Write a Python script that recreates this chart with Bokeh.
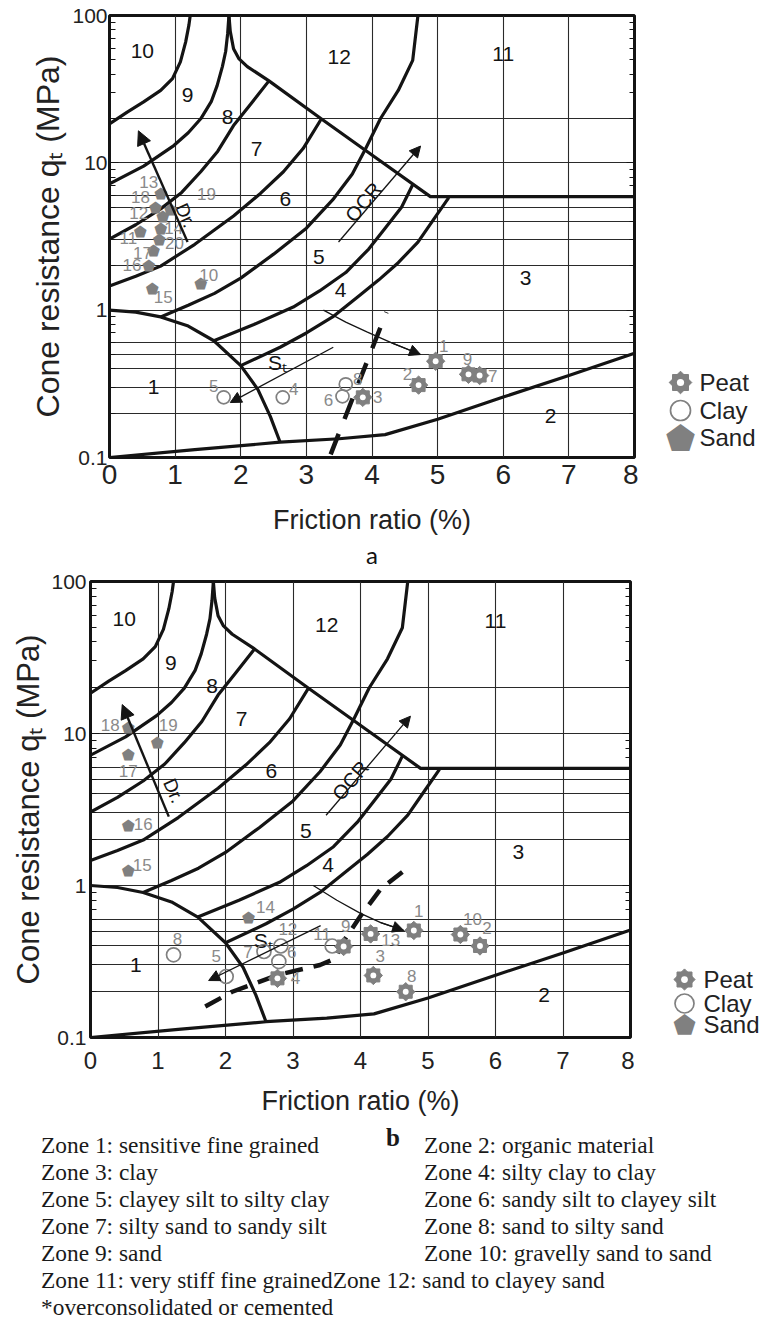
import numpy as np
from bokeh.plotting import figure
from bokeh.models import (Range1d, FixedTicker, LogAxis, Title, Arrow,
                          NormalHead, CustomJSTickFormatter, ColumnDataSource, Div)
from bokeh.layouts import column, row
from bokeh.embed import file_html
from bokeh.resources import INLINE
from bokeh.core.properties import value

# ---------------------------------------------------------------- axes / grid
rf_ticks = [0, 1, 2, 3, 4, 5, 6, 7, 8]
qt_ticks = [0.1, 1, 10, 100]
grid_rf = [1, 2, 3, 4, 5, 6, 7]
grid_qt = [0.2, 0.3, 0.4, 0.5, 0.6, 1, 2, 3, 4, 5, 6, 10, 20]

# ---------------------------------------------------------------- zone labels
zone_names = ["1", "2", "3", "4", "5", "6", "7", "8", "9", "10", "11", "12"]
zone_lbl_rf = [0.67, 6.72, 6.34, 3.52, 3.19, 2.68, 2.24, 1.80, 1.19, 0.50, 6.00, 3.50]
zone_lbl_qt = [0.30, 0.19, 1.66, 1.37, 2.30, 5.70, 12.5, 20.5, 29.0, 57.0, 55.0, 52.0]

# ---------------------------------------------------------------- zone boundaries
b_zone1_rf = [0, 0.4, 0.78, 1.2, 1.59, 2.0, 2.26, 2.45, 2.6]
b_zone1_qt = [1.0, 0.97, 0.9, 0.78, 0.62, 0.42, 0.29, 0.19, 0.127]
b_zone2_rf = [0, 1.3, 2.6, 3.5, 4.2, 5.0, 6.0, 7.0, 8.0]
b_zone2_qt = [0.1, 0.113, 0.127, 0.134, 0.143, 0.182, 0.257, 0.36, 0.51]
b_43_rf = [2.0, 2.6, 3.0, 3.4, 3.8, 4.1, 4.4, 4.7, 4.95, 5.17]
b_43_qt = [0.42, 0.56, 0.7, 0.9, 1.25, 1.6, 2.1, 2.9, 4.2, 5.8]
b_54_rf = [1.59, 2.2, 2.8, 3.2, 3.6, 3.95, 4.2, 4.45, 4.62]
b_54_qt = [0.62, 0.8, 1.05, 1.35, 1.8, 2.6, 3.6, 5.0, 7.1]
b_65_rf = [0.78, 1.2, 1.6, 2.0, 2.5, 3.0, 3.4, 3.7, 3.9, 4.13, 4.4, 4.62, 4.7]
b_65_qt = [0.9, 1.08, 1.3, 1.65, 2.4, 3.6, 5.6, 8.4, 12.4, 20, 31, 49.6, 100]
b_76_rf = [0, 0.4, 0.78, 1.3, 1.89, 2.3, 2.65, 2.95, 3.22]
b_76_qt = [1.46, 1.7, 1.99, 2.8, 4.36, 6.2, 8.7, 12.5, 19.6]
b_87_rf = [0, 0.4, 0.78, 1.1, 1.39, 1.65, 1.89, 2.15, 2.43]
b_87_qt = [3.04, 3.8, 4.87, 6.3, 8.7, 12.0, 17.9, 25.0, 36.0]
b_98_rf = [0, 0.52, 0.98, 1.2, 1.39, 1.55, 1.64, 1.72, 1.77, 1.80, 1.82]
b_98_qt = [7.2, 9.5, 13.1, 16.0, 19.9, 26.0, 33.4, 45.0, 57.0, 75.0, 100]
b_109_rf = [0, 0.27, 0.52, 0.78, 0.96, 1.08, 1.16, 1.21, 1.23]
b_109_qt = [18.4, 22.1, 25.9, 31.0, 37.3, 48.4, 66.0, 86.0, 100]
b_12_rf = [1.82, 1.84, 1.89, 1.97, 2.1, 2.43, 3.22, 3.93, 4.89, 8.0]
b_12_qt = [100, 78, 59.5, 51, 45, 36, 20, 11.9, 5.9, 5.9]
boundaries = [(b_zone1_rf, b_zone1_qt), (b_zone2_rf, b_zone2_qt), (b_43_rf, b_43_qt),
              (b_54_rf, b_54_qt), (b_65_rf, b_65_qt), (b_76_rf, b_76_qt),
              (b_87_rf, b_87_qt), (b_98_rf, b_98_qt), (b_109_rf, b_109_qt),
              (b_12_rf, b_12_qt)]

# ---------------------------------------------------------------- panel a data
peat_a_id = ["1", "2", "3", "7", "9"]
peat_a_rf = [4.97, 4.71, 3.86, 5.64, 5.47]
peat_a_qt = [0.45, 0.31, 0.256, 0.36, 0.367]
clay_a_id = ["4", "5", "6", "8"]
clay_a_rf = [2.64, 1.74, 3.55, 3.60]
clay_a_qt = [0.256, 0.256, 0.26, 0.314]
sand_a_id = ["10", "11", "12", "13", "14", "15", "16", "17", "18", "19", "20"]
sand_a_rf = [1.39, 0.47, 0.81, 0.78, 0.78, 0.65, 0.60, 0.67, 0.70, 0.93, 0.76]
sand_a_qt = [1.50, 3.39, 4.30, 6.16, 3.55, 1.39, 1.99, 2.52, 4.94, 4.79, 2.99]

# label offsets (screen px)
peat_a_dx = [8, -11, 15, 13, -1]
peat_a_dy = [-15, -11, 0, 0, -15]
clay_a_dx = [11, -10, -14, 12]
clay_a_dy = [-8, -11, 4, -5]
sand_a_dx = [8, -12, -24, -12, 13, 11, -17, -11, -15, 36, 15]
sand_a_dy = [-9, 6, -4, -12, -1, 8, -1, 2, -11, -16, 3]

# ---------------------------------------------------------------- panel b data
peat_b_id = ["1", "2", "3", "4", "8", "9", "10", "13"]
peat_b_rf = [4.79, 5.77, 4.19, 2.77, 4.67, 3.75, 5.48, 4.15]
peat_b_qt = [0.506, 0.40, 0.256, 0.245, 0.20, 0.397, 0.476, 0.48]
clay_b_id = ["5", "6", "7", "8", "11", "12"]
clay_b_rf = [2.01, 2.79, 2.57, 1.23, 3.58, 2.82]
clay_b_qt = [0.252, 0.316, 0.368, 0.35, 0.40, 0.40]
sand_b_id = ["14", "15", "16", "17", "18", "19"]
sand_b_rf = [2.34, 0.56, 0.56, 0.56, 0.56, 0.99]
sand_b_qt = [0.61, 1.24, 2.48, 7.2, 10.8, 8.6]

peat_b_dx = [5, 7, 7, 18, 6, 2, 12, 20]
peat_b_dy = [-19, -18, -19, 0, -16, -20, -16, 6]
clay_b_dx = [-10, 13, -16, 4, -10, 7]
clay_b_dy = [-20, -10, 1, -16, -12, -17]
sand_b_dx = [17, 14, 15, 0, -18, 11]
sand_b_dy = [-11, -6, -2, 16, -3, -18]

# ---------------------------------------------------------------- annotations
dr_a = dict(x0=1.19, y0=2.9, x1=0.44, y1=16.5, tx=1.16, ty=4.4)
dr_b = dict(x0=1.16, y0=2.84, x1=0.47, y1=15.5, tx=1.23, ty=4.2)
ocr_a = dict(x0=3.49, y0=2.9, x1=4.74, y1=13.0, tx=3.87, ty=5.4)
ocr_b = dict(x0=3.49, y0=2.9, x1=4.74, y1=13.0, tx=3.85, ty=4.9)
st_a = dict(x0=3.41, y0=0.56, x1=1.84, y1=0.236, tx=2.56, ty=0.44)
st_b = dict(x0=3.41, y0=0.545, x1=1.75, y1=0.237, tx=2.56, ty=0.435)
arc_a_rf = [3.26, 3.6, 3.93, 4.3, 4.74]
arc_a_qt = [1.0, 0.83, 0.71, 0.6, 0.5]
arc_b_rf = [3.3, 3.65, 4.0, 4.3, 4.64]
arc_b_qt = [1.0, 0.8, 0.655, 0.57, 0.506]
dash_a_rf = [3.37, 4.22]
dash_a_qt = [0.105, 0.97]
dash_b_rf = [1.7, 2.1, 2.8, 3.4, 3.62, 3.75, 4.0, 4.3, 4.72]
dash_b_qt = [0.16, 0.2, 0.26, 0.3, 0.33, 0.43, 0.63, 0.95, 1.33]

legend_labels = ["Peat", "Clay", "Sand"]

zone_text_left = ["Zone 1: sensitive fine grained", "Zone 3: clay",
                  "Zone 5: clayey silt to silty clay", "Zone 7: silty sand to sandy silt",
                  "Zone 9: sand"]
zone_text_right = ["Zone 2: organic material", "Zone 4: silty clay to clay",
                   "Zone 6: sandy silt to clayey silt", "Zone 8: sand to silty sand",
                   "Zone 10: gravelly sand to sand"]
zone_text_tail = ["Zone 11: very stiff fine grainedZone 12: sand to clayey sand",
                  "*overconsolidated or cemented"]

INK = "#141414"
GREY = "#808080"
LGREY = "#8a8a8a"
SANS = "Liberation Sans"
PENT = "\u2B1F"


def make_panel(cfg, peat, clay, sand, dr, ocr, st, arc, dash):
    p = figure(x_range=Range1d(0, 8), y_range=Range1d(0.1, 100), y_axis_type="log",
               frame_width=cfg["fw"], frame_height=cfg["fh"],
               min_border_left=cfg["bl"], min_border_top=cfg["bt"],
               min_border_bottom=cfg["bb"], min_border_right=4,
               output_backend="svg", toolbar_location=None)
    p.outline_line_color = INK
    p.outline_line_width = 3
    minor = [m * 10.0 ** e for e in (-1, 0, 1) for m in range(2, 10)]
    ya = p.yaxis[0]
    ya.ticker = FixedTicker(ticks=qt_ticks, minor_ticks=minor)
    ya.formatter = CustomJSTickFormatter(code="return tick < 1 ? tick.toFixed(1) : tick.toFixed(0);")
    ya.axis_line_color = None
    ya.major_tick_in = 9
    ya.major_tick_out = 0
    ya.minor_tick_in = 6
    ya.minor_tick_out = 0
    ya.major_tick_line_color = INK
    ya.minor_tick_line_color = INK
    ya.major_label_text_font = SANS
    ya.major_label_text_font_size = cfg["ytick_fs"]
    ya.major_label_text_color = "#222"
    ya.major_label_standoff = cfg["ytick_so"]
    ya.axis_label = "Cone resistance q\u209C (MPa)"
    ya.axis_label_text_font = SANS
    ya.axis_label_text_font_style = "normal"
    ya.axis_label_text_font_size = cfg["ylab_fs"]
    ya.axis_label_text_color = "#222"
    ya.axis_label_standoff = cfg["ylab_so"]

    xa = p.xaxis[0]
    xa.ticker = FixedTicker(ticks=rf_ticks)
    xa.axis_line_color = None
    xa.major_tick_line_color = None
    xa.minor_tick_line_color = None
    xa.major_label_text_font = SANS
    xa.major_label_text_font_size = cfg["xtick_fs"]
    xa.major_label_text_color = "#222"
    xa.major_label_standoff = cfg["xtick_so"]
    xa.axis_label = "Friction ratio (%)"
    xa.axis_label_text_font = SANS
    xa.axis_label_text_font_style = "normal"
    xa.axis_label_text_font_size = cfg["xlab_fs"]
    xa.axis_label_text_color = "#222"
    xa.axis_label_standoff = cfg["xlab_so"]

    ra = LogAxis(ticker=FixedTicker(ticks=qt_ticks, minor_ticks=minor),
                 major_label_text_font_size="6px", major_label_text_color=None,
                 axis_line_color=None,
                 major_tick_in=8, major_tick_out=0, minor_tick_in=5, minor_tick_out=0,
                 major_tick_line_color=INK, minor_tick_line_color=INK, major_label_standoff=0)
    p.add_layout(ra, "right")

    p.xgrid.ticker = FixedTicker(ticks=grid_rf)
    p.ygrid.ticker = FixedTicker(ticks=grid_qt)
    p.grid.grid_line_color = "#2a2a2a"
    p.grid.grid_line_width = 1.1
    p.grid.grid_line_alpha = 1.0

    for bx, bq in boundaries:
        p.line(bx, bq, line_color=INK, line_width=3.2, line_join="round")

    p.text(zone_lbl_rf, zone_lbl_qt, text=zone_names, text_font=value(SANS),
           text_font_size="21px", text_color=INK, text_align="center", text_baseline="middle")

    p.add_layout(Arrow(end=NormalHead(size=14, fill_color=INK, line_color=INK),
                       x_start=dr["x0"], y_start=dr["y0"], x_end=dr["x1"], y_end=dr["y1"],
                       line_width=2.4, line_color=INK))
    p.text([dr["tx"]], [dr["ty"]], text=["Dr."], angle=-1.15, text_font=value(SANS),
           text_font_size="19px", text_color=INK, text_align="center", text_baseline="middle")
    p.add_layout(Arrow(end=NormalHead(size=11, fill_color=INK, line_color=INK),
                       x_start=ocr["x0"], y_start=ocr["y0"], x_end=ocr["x1"], y_end=ocr["y1"],
                       line_width=1.3, line_color=INK))
    p.text([ocr["tx"]], [ocr["ty"]], text=["OCR"], angle=0.87, text_font=value(SANS),
           text_font_size="20px", text_color=INK, text_align="center", text_baseline="middle")
    p.add_layout(Arrow(end=NormalHead(size=11, fill_color=INK, line_color=INK),
                       x_start=st["x0"], y_start=st["y0"], x_end=st["x1"], y_end=st["y1"],
                       line_width=1.3, line_color=INK))
    p.text([st["tx"]], [st["ty"]], text=["S\u209C"], text_font=value(SANS),
           text_font_size="21px", text_color=INK, text_align="center", text_baseline="middle")
    p.line(arc[0], arc[1], line_color=INK, line_width=1.3)
    p.add_layout(Arrow(end=NormalHead(size=11, fill_color=INK, line_color=INK),
                       x_start=arc[0][-2], y_start=arc[1][-2], x_end=arc[0][-1], y_end=arc[1][-1],
                       line_width=1.3, line_color=INK))
    p.line(dash[0], dash[1], line_color=INK, line_width=4.5, line_dash=cfg["dash"])

    pid, px, pq, pdx, pdy = peat
    cid, cx, cq, cdx, cdy = clay
    sid, sx, sq, sdx, sdy = sand
    s = cfg["peat_size"]
    p.scatter(px, pq, marker="square", size=s, angle=0, fill_color=GREY, line_color=GREY)
    p.scatter(px, pq, marker="square", size=s, angle=np.pi / 4, fill_color=GREY, line_color=GREY)
    p.scatter(px, pq, marker="circle", size=s * 0.45, fill_color="white", line_color=None)
    p.scatter(cx, cq, marker="circle", size=cfg["clay_size"], fill_color=None,
              line_color=GREY, line_width=1.7)
    p.text(sx, sq, text=[PENT] * len(sx), text_font=value("DejaVu Sans"),
           text_font_size=cfg["sand_fs"], text_color=GREY, text_align="center",
           text_baseline="middle")
    for ids, xs, qs, dxs, dys in (peat, clay, sand):
        src = ColumnDataSource(dict(x=xs, y=qs, t=ids, dx=dxs, dy=dys))
        p.text(x="x", y="y", text="t", x_offset="dx", y_offset="dy", source=src,
               text_font=value(SANS), text_font_size="17px", text_color=LGREY,
               text_align="center", text_baseline="middle")
    return p


def make_legend(cfg, pcfg):
    # legend panel: frame aligned with the neighbouring chart frame; units are px
    lw = cfg["lw"]
    lf = figure(x_range=Range1d(0, lw), y_range=Range1d(0, pcfg["fh"]),
                frame_width=lw, frame_height=pcfg["fh"],
                min_border_left=0, min_border_right=0,
                min_border_top=pcfg["bt"], min_border_bottom=pcfg["bb"],
                x_axis_location=None, y_axis_location=None,
                output_backend="svg", toolbar_location=None)
    lf.outline_line_color = None
    lf.grid.visible = False
    mx = cfg["mx"]
    ys = cfg["ys"]
    s = cfg["lpeat"]
    lf.scatter([mx], [ys[0]], marker="square", size=s, angle=0, fill_color=GREY, line_color=GREY)
    lf.scatter([mx], [ys[0]], marker="square", size=s, angle=np.pi / 4, fill_color=GREY, line_color=GREY)
    lf.scatter([mx], [ys[0]], marker="circle", size=s * 0.45, fill_color="white", line_color=None)
    lf.scatter([mx], [ys[1]], marker="circle", size=cfg["lclay"], fill_color=None,
               line_color=GREY, line_width=1.7)
    lf.text([mx], [ys[2]], text=[PENT], text_font=value("DejaVu Sans"),
            text_font_size=cfg["lsand"], text_color=GREY, text_align="center", text_baseline="middle")
    lf.text([cfg["tx"]] * 3, ys, text=legend_labels, text_font=value(SANS),
            text_font_size="24px", text_color="#222", text_align="left", text_baseline="middle")
    return lf


cfg_a = dict(fw=525, fh=442, bl=109, bt=15, bb=108, ytick_fs="21px", ytick_so=2, ylab_fs="32px",
             ylab_so=3, xtick_fs="28px", xtick_so=1, xlab_fs="27px", xlab_so=18,
             peat_size=13, clay_size=13, sand_fs="15px", dash="22 16")
cfg_b = dict(fw=540, fh=456, bl=90, bt=13, bb=86, ytick_fs="21px", ytick_so=4, ylab_fs="31px",
             ylab_so=2, xtick_fs="24px", xtick_so=8, xlab_fs="27px", xlab_so=14,
             peat_size=13, clay_size=14, sand_fs="15px", dash="18 11")

pa = make_panel(cfg_a, (peat_a_id, peat_a_rf, peat_a_qt, peat_a_dx, peat_a_dy),
                (clay_a_id, clay_a_rf, clay_a_qt, clay_a_dx, clay_a_dy),
                (sand_a_id, sand_a_rf, sand_a_qt, sand_a_dx, sand_a_dy),
                dr_a, ocr_a, st_a, (arc_a_rf, arc_a_qt), (dash_a_rf, dash_a_qt))
pa.add_layout(Title(text="a", align="center", text_font="Lato", text_font_size="24px",
                    text_font_style="normal", text_color="#111", standoff=0), "below")
pb = make_panel(cfg_b, (peat_b_id, peat_b_rf, peat_b_qt, peat_b_dx, peat_b_dy),
                (clay_b_id, clay_b_rf, clay_b_qt, clay_b_dx, clay_b_dy),
                (sand_b_id, sand_b_rf, sand_b_qt, sand_b_dx, sand_b_dy),
                dr_b, ocr_b, st_b, (arc_b_rf, arc_b_qt), (dash_b_rf, dash_b_qt))

la = make_legend(dict(lw=126, mx=42, tx=61, ys=[75, 47, 20],
                      lpeat=16, lclay=20, lsand="34px"), cfg_a)
lb = make_legend(dict(lw=130, mx=50, tx=69, ys=[58, 34, 13],
                      lpeat=15, lclay=19, lsand="26px"), cfg_b)

rows_html = []
for i, t in enumerate(zone_text_left):
    rows_html.append(f'<div style="position:absolute;left:36px;top:{4 + 27 * i}px;white-space:nowrap">{t}</div>')
for i, t in enumerate(zone_text_right):
    rows_html.append(f'<div style="position:absolute;left:419px;top:{4 + 27 * i}px;white-space:nowrap">{t}</div>')
for j, t in enumerate(zone_text_tail):
    rows_html.append(f'<div style="position:absolute;left:36px;top:{4 + 27 * (len(zone_text_left) + j)}px;white-space:nowrap">{t}</div>')
rows_html.append('<div style="position:absolute;left:381px;top:-4px;font-weight:bold;font-size:25px">b</div>')
html = ('<div style="position:relative;width:753px;height:196px;font-family:\'Liberation Serif\',serif;'
        'font-size:23.4px;line-height:27px;color:#1a1a1a">' + "".join(rows_html) + '</div>')
div = Div(text=html, width=753, height=196)

layout = column(row(pa, la), row(pb, lb), div)
open("out.html", "w").write(file_html(layout, INLINE))
